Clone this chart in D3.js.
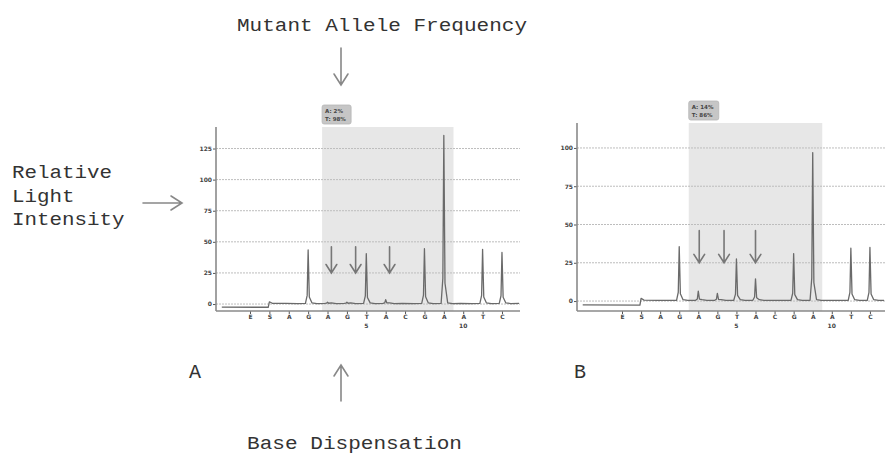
<!DOCTYPE html>
<html>
<head>
<meta charset="utf-8">
<script src="https://cdn.jsdelivr.net/npm/d3@7"></script>
<style>
  body { margin: 0; background: #fff; }
  svg { display: block; }
  .mono { font-family: "Liberation Mono", "DejaVu Sans Mono", monospace; fill: #333; }
  .tiny { font-family: "DejaVu Sans", Arial, sans-serif; font-weight: bold; fill: #444; }
</style>
</head>
<body>
<div id="chart"></div>
<script>
// dispensation order (S counted as 0, E as -1)
var dispensation = ["E", "S", "A", "G", "A", "G", "T", "A", "C", "G", "A", "A", "T", "C"];
var positions = [-1, 0, 1, 2, 3, 4, 5, 6, 7, 8, 9, 10, 11, 12];
var numberTicks = [5, 10];

// peak heights
var peaksA = [0, 0, 0, 43, 1, 1, 40, 3, 0, 44, 135, 0, 43.5, 41];
var peaksB = [0, 0, 0, 35, 6, 4.5, 27, 14, 0, 30.5, 96.5, 0, 34, 34.5];

var yTicksA = [0, 25, 50, 75, 100, 125];
var yTicksB = [0, 25, 50, 75, 100];

var freqA = ["A: 2%", "T: 98%"];
var freqB = ["A: 14%", "T: 86%"];

// variable region (shaded)
var regionA = [2.72, 9.5];
var regionB = [2.5, 9.5];

// little arrows pointing at the mutation sites
var arrowsA = [3.2, 4.45, 6.2];
var arrowsB = [3.05, 4.35, 6.0];

var svgWidth = 885, svgHeight = 455;

var svg = d3.select("#chart").append("svg")
  .attr("width", svgWidth)
  .attr("height", svgHeight);

var panels = [
  { peaks: peaksA, yTicks: yTicksA, freq: freqA, region: regionA, arrows: arrowsA,
    left: 216, right: 520, top: 127, bottom: 311,
    xDomain: [-2.754, 12.93], yDomain: [-5.6, 142.3], boxW: 29 },
  { peaks: peaksB, yTicks: yTicksB, freq: freqB, region: regionB, arrows: arrowsB,
    left: 577, right: 885, top: 123, bottom: 311,
    xDomain: [-3.36, 12.79], yDomain: [-6.5, 116.3], boxW: 30 }
];

function drawArrow(g, x1, y1, x2, y2, head, color, width) {
  var ang = Math.atan2(y2 - y1, x2 - x1);
  var a1 = ang + Math.PI * 0.82, a2 = ang - Math.PI * 0.82;
  var p = d3.path();
  p.moveTo(x1, y1); p.lineTo(x2, y2);
  p.moveTo(x2 + head * Math.cos(a1), y2 + head * Math.sin(a1)); p.lineTo(x2, y2);
  p.lineTo(x2 + head * Math.cos(a2), y2 + head * Math.sin(a2));
  g.append("path").attr("d", p.toString())
    .attr("fill", "none").attr("stroke", color).attr("stroke-width", width)
    .attr("stroke-linecap", "round");
}

panels.forEach(function(pn) {
  var x = d3.scaleLinear().domain(pn.xDomain).range([pn.left, pn.right]);
  var y = d3.scaleLinear().domain(pn.yDomain).range([pn.bottom, pn.top]);
  var g = svg.append("g");

  // shaded variable region
  g.append("rect")
    .attr("x", x(pn.region[0]))
    .attr("y", pn.top)
    .attr("width", x(pn.region[1]) - x(pn.region[0]))
    .attr("height", pn.bottom - pn.top)
    .attr("fill", "#e7e7e7");

  // frequency label box
  var bx = x(pn.region[0]);
  g.append("rect")
    .attr("x", bx).attr("y", pn.top - 22)
    .attr("width", pn.boxW).attr("height", 19)
    .attr("rx", 2)
    .attr("fill", "#c6c6c6").attr("stroke", "#b5b5b5").attr("stroke-width", 0.8);
  g.selectAll(".freq").data(pn.freq).enter().append("text")
    .attr("class", "tiny")
    .attr("x", bx + 3)
    .attr("y", function(d, i) { return pn.top - 14.5 + i * 8; })
    .attr("font-size", "5.5px")
    .text(function(d) { return d; });

  // grid lines
  g.selectAll(".grid").data(pn.yTicks).enter().append("line")
    .attr("x1", pn.left).attr("x2", pn.right)
    .attr("y1", function(d) { return y(d); }).attr("y2", function(d) { return y(d); })
    .attr("stroke", "#bdbdbd").attr("stroke-width", 1)
    .attr("stroke-dasharray", "2,1");

  // y axis
  var yAxis = d3.axisLeft(y).tickValues(pn.yTicks).tickSize(3).tickPadding(1);
  var ya = g.append("g").attr("transform", "translate(" + pn.left + ",0)").call(yAxis);
  ya.select(".domain").remove();
  ya.selectAll("line").attr("stroke", "#555");
  ya.selectAll("text").attr("class", "tiny").attr("font-size", "6px");
  g.append("line")
    .attr("x1", pn.left).attr("x2", pn.left)
    .attr("y1", pn.top).attr("y2", pn.bottom)
    .attr("stroke", "#8a8a8a").attr("stroke-width", 1.6);

  // x axis with dispensation letters
  var xAxis = d3.axisBottom(x).tickValues(positions).tickSize(3).tickPadding(1)
    .tickFormat(function(d, i) { return dispensation[i]; });
  var xa = g.append("g").attr("transform", "translate(0," + pn.bottom + ")").call(xAxis);
  xa.select(".domain").remove();
  xa.selectAll("line").attr("stroke", "#555");
  xa.selectAll("text").attr("class", "tiny").attr("font-size", "6px");
  g.append("line")
    .attr("x1", pn.left).attr("x2", pn.right)
    .attr("y1", pn.bottom).attr("y2", pn.bottom)
    .attr("stroke", "#8a8a8a").attr("stroke-width", 1.6);
  g.selectAll(".num").data(numberTicks).enter().append("text")
    .attr("class", "tiny")
    .attr("x", function(d) { return x(d); })
    .attr("y", pn.bottom + 17)
    .attr("text-anchor", "middle")
    .attr("font-size", "6px")
    .text(function(d) { return d; });

  // pyrogram trace
  var pts = [[pn.xDomain[0] + 0.3, -2.5], [-0.06, -2.6], [0, 1.8], [0.15, 0.6]];
  positions.forEach(function(p, i) {
    var h = pn.peaks[i];
    if (p <= 0) return;
    pts.push([p - 0.14, 0.5]);
    if (h > 0) {
      pts.push([p - 0.05, 0.5 + h * 0.15]);
      pts.push([p, 0.5 + h]);
      pts.push([p + 0.06, 0.5 + h * 0.12]);
      pts.push([p + 0.2, 0.9]);
    }
    pts.push([p + 0.45, 0.4]);
  });
  pts.push([pn.xDomain[1] - 0.05, 0.5]);
  var line = d3.line().x(function(d) { return x(d[0]); }).y(function(d) { return y(d[1]); });
  g.append("path").datum(pts)
    .attr("d", line)
    .attr("fill", "none")
    .attr("stroke", "#6a6a6a")
    .attr("stroke-width", 1.3)
    .attr("stroke-linejoin", "round");

  // mutation arrows
  pn.arrows.forEach(function(a) {
    drawArrow(g, x(a), y(46), x(a), y(25), 10, "#777", 1.6);
  });
});

// annotations
svg.append("text").attr("class", "mono")
  .attr("x", 237).attr("y", 31)
  .attr("font-size", "18px")
  .attr("textLength", 290).attr("lengthAdjust", "spacingAndGlyphs")
  .text("Mutant Allele Frequency");
drawArrow(svg, 341, 48, 341, 85, 13, "#888", 1.6);

var leftLabel = ["Relative", "Light", "Intensity"];
svg.selectAll(".ylab").data(leftLabel).enter().append("text")
  .attr("class", "mono")
  .attr("x", 12)
  .attr("y", function(d, i) { return 178 + i * 23.5; })
  .attr("font-size", "18px")
  .attr("textLength", function(d) { return d.length * 12.5; })
  .attr("lengthAdjust", "spacingAndGlyphs")
  .text(function(d) { return d; });
drawArrow(svg, 143, 203, 182, 203, 13, "#888", 1.6);

svg.append("text").attr("class", "mono")
  .attr("x", 189).attr("y", 378)
  .attr("font-size", "20px")
  .text("A");
svg.append("text").attr("class", "mono")
  .attr("x", 574).attr("y", 378)
  .attr("font-size", "20px")
  .text("B");

drawArrow(svg, 341, 401, 341, 365, 13, "#888", 1.6);
svg.append("text").attr("class", "mono")
  .attr("x", 247).attr("y", 449)
  .attr("font-size", "18px")
  .attr("textLength", 215).attr("lengthAdjust", "spacingAndGlyphs")
  .text("Base Dispensation");
</script>
</body>
</html>
